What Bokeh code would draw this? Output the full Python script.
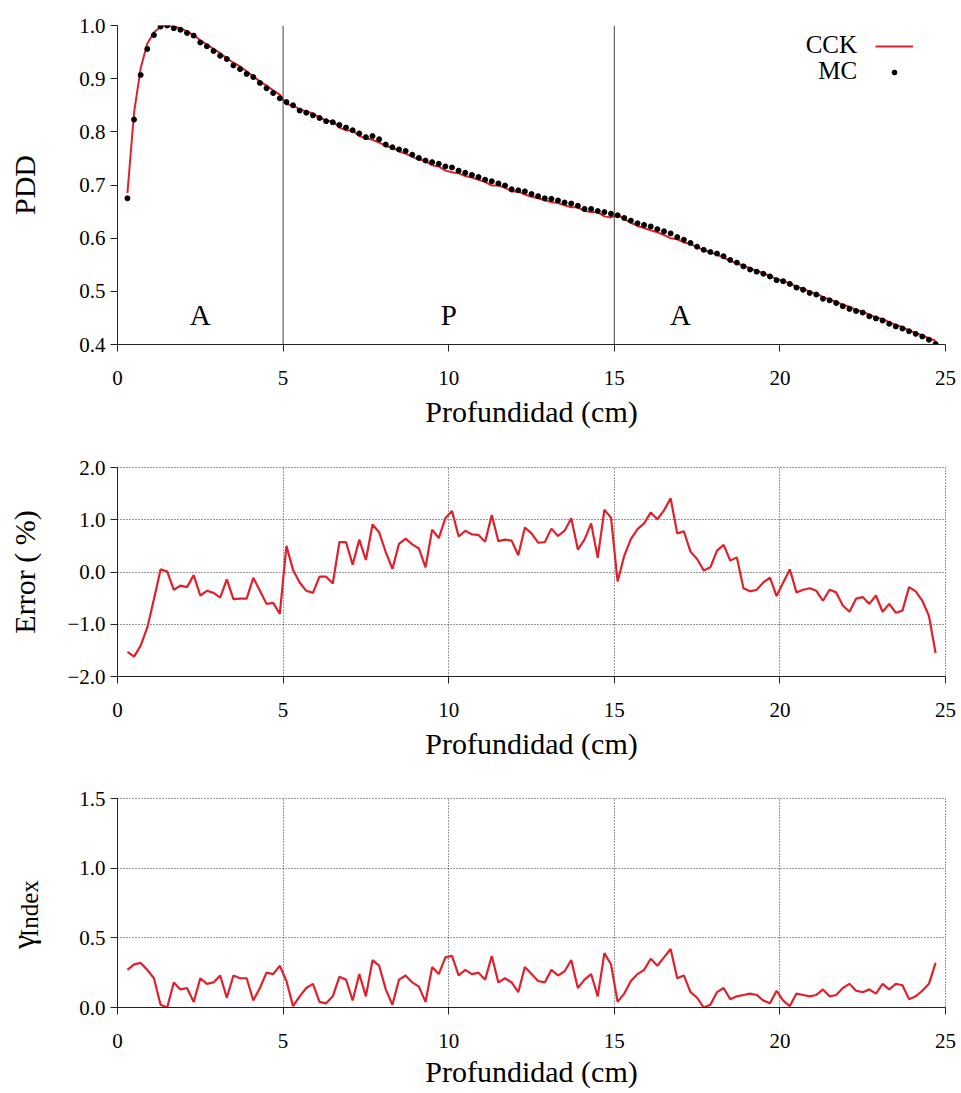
from math import pi
from bokeh.plotting import figure
from bokeh.models import (Range1d, FixedTicker, PrintfTickFormatter, CustomJSTickFormatter,
                          Span, Label, Legend, LegendItem)
from bokeh.core.properties import value
from bokeh.layouts import column, row
from bokeh.embed import file_html
from bokeh.resources import INLINE

# ---------------- data ----------------
depth = [0.3, 0.5, 0.7, 0.9, 1.1, 1.3, 1.5, 1.7, 1.9, 2.1,
         2.3, 2.5, 2.7, 2.9, 3.1, 3.3, 3.5, 3.7, 3.9, 4.1,
         4.3, 4.5, 4.7, 4.9, 5.1, 5.3, 5.5, 5.7, 5.9, 6.1,
         6.3, 6.5, 6.7, 6.9, 7.1, 7.3, 7.5, 7.7, 7.9, 8.1,
         8.3, 8.5, 8.7, 8.9, 9.1, 9.3, 9.5, 9.7, 9.9, 10.1,
         10.3, 10.5, 10.7, 10.9, 11.1, 11.3, 11.5, 11.7, 11.9, 12.1,
         12.3, 12.5, 12.7, 12.9, 13.1, 13.3, 13.5, 13.7, 13.9, 14.1,
         14.3, 14.5, 14.7, 14.9, 15.1, 15.3, 15.5, 15.7, 15.9, 16.1,
         16.3, 16.5, 16.7, 16.9, 17.1, 17.3, 17.5, 17.7, 17.9, 18.1,
         18.3, 18.5, 18.7, 18.9, 19.1, 19.3, 19.5, 19.7, 19.9, 20.1,
         20.3, 20.5, 20.7, 20.9, 21.1, 21.3, 21.5, 21.7, 21.9, 22.1,
         22.3, 22.5, 22.7, 22.9, 23.1, 23.3, 23.5, 23.7, 23.9, 24.1,
         24.3, 24.5, 24.7]

pdd_mc = [0.675, 0.823, 0.907, 0.956, 0.982, 0.998, 1.000, 0.995, 0.992, 0.986,
          0.981, 0.968, 0.961, 0.952, 0.943, 0.937, 0.925, 0.918, 0.909, 0.903,
          0.892, 0.882, 0.873, 0.863, 0.856, 0.850, 0.840, 0.836, 0.831, 0.826,
          0.820, 0.818, 0.813, 0.808, 0.803, 0.797, 0.790, 0.792, 0.786, 0.776,
          0.771, 0.767, 0.764, 0.757, 0.751, 0.746, 0.743, 0.740, 0.735, 0.733,
          0.727, 0.723, 0.719, 0.715, 0.710, 0.707, 0.703, 0.699, 0.692, 0.690,
          0.688, 0.683, 0.679, 0.675, 0.674, 0.671, 0.667, 0.665, 0.661, 0.655,
          0.655, 0.651, 0.649, 0.646, 0.643, 0.638, 0.633, 0.628, 0.625, 0.622,
          0.617, 0.613, 0.609, 0.602, 0.597, 0.591, 0.584, 0.578, 0.574, 0.571,
          0.566, 0.559, 0.554, 0.547, 0.541, 0.537, 0.533, 0.528, 0.521, 0.519,
          0.514, 0.507, 0.503, 0.497, 0.494, 0.486, 0.483, 0.478, 0.472, 0.467,
          0.463, 0.460, 0.453, 0.449, 0.445, 0.439, 0.434, 0.430, 0.425, 0.420,
          0.415, 0.409, 0.401]

pdd_cck = [0.685, 0.836, 0.920, 0.966, 0.987, 0.998, 1.000, 0.998, 0.995, 0.989,
           0.982, 0.972, 0.964, 0.956, 0.948, 0.938, 0.930, 0.923, 0.914, 0.904,
           0.895, 0.887, 0.878, 0.870, 0.852, 0.850, 0.842, 0.839, 0.834, 0.827,
           0.821, 0.820, 0.808, 0.803, 0.802, 0.792, 0.788, 0.785, 0.780, 0.773,
           0.771, 0.763, 0.759, 0.753, 0.748, 0.745, 0.737, 0.735, 0.727, 0.724,
           0.722, 0.717, 0.714, 0.710, 0.706, 0.699, 0.699, 0.695, 0.688, 0.688,
           0.682, 0.678, 0.675, 0.671, 0.668, 0.666, 0.662, 0.658, 0.658, 0.651,
           0.649, 0.649, 0.641, 0.639, 0.644, 0.636, 0.629, 0.623, 0.619, 0.615,
           0.611, 0.606, 0.600, 0.598, 0.592, 0.589, 0.583, 0.578, 0.573, 0.569,
           0.563, 0.558, 0.552, 0.549, 0.543, 0.539, 0.534, 0.529, 0.523, 0.520,
           0.514, 0.509, 0.505, 0.499, 0.496, 0.489, 0.485, 0.480, 0.475, 0.471,
           0.465, 0.462, 0.456, 0.451, 0.448, 0.442, 0.437, 0.433, 0.426, 0.422,
           0.417, 0.412, 0.407]

error_pct = [-1.53, -1.62, -1.41, -1.06, -0.52, 0.05, 0.01, -0.34, -0.26, -0.29,
             -0.06, -0.45, -0.36, -0.40, -0.49, -0.14, -0.52, -0.51, -0.51, -0.11,
             -0.36, -0.61, -0.59, -0.80, 0.50, 0.04, -0.20, -0.36, -0.40, -0.09,
             -0.09, -0.22, 0.57, 0.57, 0.14, 0.62, 0.23, 0.91, 0.76, 0.38,
             0.06, 0.54, 0.64, 0.53, 0.45, 0.09, 0.81, 0.65, 1.03, 1.17,
             0.68, 0.79, 0.72, 0.71, 0.58, 1.09, 0.59, 0.62, 0.60, 0.32,
             0.85, 0.74, 0.56, 0.57, 0.83, 0.69, 0.79, 1.03, 0.43, 0.62,
             0.93, 0.27, 1.19, 1.04, -0.18, 0.31, 0.63, 0.82, 0.93, 1.14,
             1.01, 1.18, 1.41, 0.74, 0.78, 0.39, 0.25, 0.03, 0.09, 0.41,
             0.52, 0.22, 0.28, -0.31, -0.37, -0.34, -0.20, -0.11, -0.46, -0.20,
             0.05, -0.39, -0.34, -0.31, -0.36, -0.55, -0.34, -0.39, -0.64, -0.76,
             -0.51, -0.48, -0.61, -0.45, -0.76, -0.61, -0.78, -0.74, -0.29, -0.37,
             -0.55, -0.84, -1.55]

gamma_index = [0.27, 0.31, 0.32, 0.27, 0.21, 0.02, 0.00, 0.18, 0.13, 0.14,
               0.04, 0.21, 0.17, 0.18, 0.23, 0.07, 0.23, 0.21, 0.21, 0.05,
               0.14, 0.25, 0.24, 0.30, 0.19, 0.01, 0.08, 0.14, 0.17, 0.04,
               0.03, 0.08, 0.22, 0.20, 0.05, 0.24, 0.08, 0.34, 0.30, 0.13,
               0.02, 0.20, 0.23, 0.18, 0.15, 0.04, 0.29, 0.24, 0.36, 0.37,
               0.23, 0.27, 0.24, 0.25, 0.20, 0.37, 0.18, 0.21, 0.18, 0.11,
               0.29, 0.24, 0.19, 0.18, 0.27, 0.23, 0.26, 0.34, 0.14, 0.20,
               0.24, 0.08, 0.39, 0.31, 0.04, 0.10, 0.19, 0.24, 0.27, 0.35,
               0.30, 0.36, 0.42, 0.21, 0.23, 0.11, 0.07, 0.00, 0.02, 0.11,
               0.14, 0.06, 0.08, 0.09, 0.10, 0.09, 0.05, 0.03, 0.12, 0.05,
               0.01, 0.10, 0.09, 0.08, 0.09, 0.13, 0.08, 0.09, 0.14, 0.17,
               0.12, 0.11, 0.13, 0.10, 0.17, 0.13, 0.17, 0.16, 0.06, 0.08,
               0.12, 0.17, 0.32]

x_ticks = [0, 5, 10, 15, 20, 25]
pdd_ticks = [0.4, 0.5, 0.6, 0.7, 0.8, 0.9, 1.0]
err_ticks = [-2, -1, 0, 1, 2]
gam_ticks = [0.0, 0.5, 1.0, 1.5]
interfaces = [5, 15]
regions = [("A", 2.5), ("P", 10.0), ("A", 17.0)]

# ---------------- style ----------------
FONT = "Liberation Serif"
RED = "#e0202a"
AX = "#222222"
W = 961


def base_fig(width, height, left, top, bottom, yr):
    p = figure(width=width, height=height, x_range=Range1d(0, 25), y_range=Range1d(*yr),
               output_backend="svg", toolbar_location=None,
               min_border_left=left, min_border_right=16,
               min_border_top=top, min_border_bottom=bottom)
    p.outline_line_color = None
    p.background_fill_color = "white"
    p.border_fill_color = "white"
    p.xaxis.ticker = FixedTicker(ticks=x_ticks, minor_ticks=[])
    for ax in p.axis:
        ax.major_tick_in = 0
        ax.major_tick_out = 7
        ax.minor_tick_in = 0
        ax.minor_tick_out = 0
        ax.axis_line_color = AX
        ax.major_tick_line_color = AX
        ax.major_label_text_font = FONT
        ax.major_label_text_font_size = "21px"
        ax.major_label_text_color = "black"
        ax.axis_label_text_font = FONT
        ax.axis_label_text_font_size = "30px"
        ax.axis_label_text_font_style = "normal"
        ax.axis_label_text_color = "black"
    p.xaxis.major_label_standoff = 19
    p.yaxis.major_label_standoff = 5
    p.xaxis.axis_label = "Profundidad (cm)"
    p.xaxis.axis_label_standoff = 7
    return p


def dotted_grid(p):
    p.grid.grid_line_color = "#333333"
    p.grid.grid_line_dash = "1 2"
    p.grid.grid_line_width = 1
    p.outline_line_color = "#333333"
    p.outline_line_dash = "1 2"
    p.outline_line_width = 1


# ---- top: PDD ----
p1 = base_fig(W, 444, 117, 25, 100, (0.4, 1.0))
p1.grid.grid_line_color = None
p1.yaxis.ticker = FixedTicker(ticks=pdd_ticks, minor_ticks=[])
p1.yaxis.formatter = PrintfTickFormatter(format="%.1f")
p1.yaxis.axis_label = "PDD"
p1.yaxis.axis_label_standoff = 35
for loc in interfaces:
    p1.add_layout(Span(location=loc, dimension="height", line_color="#444444", line_width=1))
for txt, xc in regions:
    p1.add_layout(Label(x=xc, y=0.455, text=txt, text_align="center", text_baseline="alphabetic",
                        text_font=FONT, text_font_size="29px", text_color="black"))
r_cck = p1.line(depth, pdd_cck, line_color=RED, line_width=2)
r_mc = p1.scatter(depth, pdd_mc, size=5, fill_color="black", line_color="black")
leg = Legend(items=[LegendItem(label=" ", renderers=[r_cck]),
                    LegendItem(label=" ", renderers=[r_mc])],
             location=(758, 266), glyph_width=38, glyph_height=12, spacing=14,
             padding=0, margin=0, label_standoff=0, label_width=0, label_height=0,
             label_text_font_size="1px", border_line_alpha=0, background_fill_alpha=0)
p1.add_layout(leg)
p1.add_layout(Label(x=22.33, y=0.965, text="CCK", text_align="right", text_baseline="alphabetic",
                    text_font=FONT, text_font_size="25px", text_color="black"))
p1.add_layout(Label(x=22.33, y=0.915, text="MC", text_align="right", text_baseline="alphabetic",
                    text_font=FONT, text_font_size="25px", text_color="black"))

# ---- middle: error ----
p2 = base_fig(W, 334, 117, 23, 102, (-2.0, 2.0))
dotted_grid(p2)
p2.yaxis.ticker = FixedTicker(ticks=err_ticks, minor_ticks=[])
p2.yaxis.formatter = CustomJSTickFormatter(
    code="return (tick < 0 ? '\u2212' : '') + Math.abs(tick).toFixed(1);")
p2.yaxis.axis_label = "Error ( %)"
p2.yaxis.axis_label_standoff = 23
p2.line(depth, error_pct, line_color=RED, line_width=2.2)

# ---- bottom: gamma index ----
LW = 60
p3 = base_fig(W - LW, 315, 117 - LW, 20, 86, (0.0, 1.5))
dotted_grid(p3)
p3.yaxis.ticker = FixedTicker(ticks=gam_ticks, minor_ticks=[])
p3.yaxis.formatter = PrintfTickFormatter(format="%.1f")
p3.xaxis.axis_label_standoff = 4
p3.line(depth, gamma_index, line_color=RED, line_width=2.2)

# side strip holding the rotated y label  "γ" with subscript "Index"
lab = figure(width=LW, height=315, x_range=Range1d(0, LW), y_range=Range1d(0, 315),
             x_axis_type=None, y_axis_type=None,
             output_backend="svg", toolbar_location=None,
             min_border_left=0, min_border_right=0, min_border_top=0, min_border_bottom=0)
lab.grid.visible = False
lab.outline_line_color = None
lab.border_fill_color = "white"
lab.text(x=[22], y=[88], text=["γ"], angle=pi / 2, text_align="left",
         text_baseline="alphabetic", text_font=value(FONT), text_font_size="32px",
         text_color="black")
lab.text(x=[29], y=[106], text=["Index"], angle=pi / 2, text_align="left",
         text_baseline="alphabetic", text_font=value(FONT), text_font_size="25px",
         text_color="black")

layout = column(p1, p2, row(lab, p3, spacing=0), spacing=0)
open("out.html", "w").write(file_html(layout, INLINE))
